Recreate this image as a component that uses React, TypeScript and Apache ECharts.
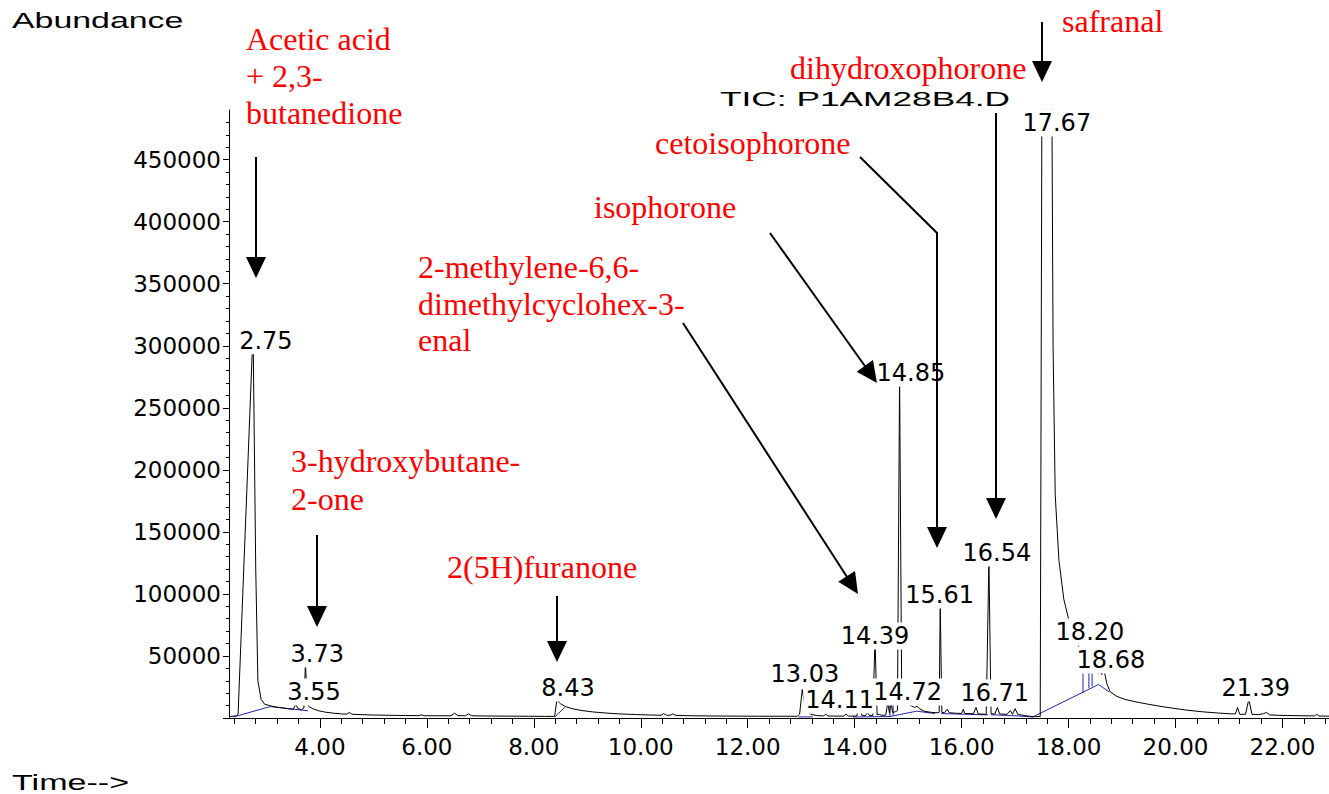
import React, { useEffect, useRef } from "react";
import * as echarts from "echarts";

// Total ion chromatogram trace: [retention time (min), abundance]
const trace: [number, number][] = [
  [2.31, 1200], [2.38, 1500], [2.44, 1800], [2.47, 3000], [2.75, 312000], [2.8, 120000],
  [2.84, 30000], [2.9, 15000], [2.97, 11000], [3.05, 10200], [3.09, 9600], [3.2, 8700],
  [3.32, 8000], [3.44, 7200], [3.5, 7000], [3.55, 11000], [3.59, 7400], [3.66, 6800],
  [3.7, 8000], [3.73, 45000], [3.76, 12000], [3.8, 9000], [3.88, 7200], [3.98, 5800],
  [4.1, 4700], [4.25, 3900], [4.4, 3300], [4.5, 3100], [4.55, 4500], [4.6, 3000],
  [4.8, 2700], [5.0, 2400], [5.3, 2200], [5.6, 2000], [5.85, 1900], [5.9, 2600],
  [5.95, 1800], [6.2, 1800], [6.45, 1800], [6.52, 3900], [6.58, 1900], [6.72, 1800],
  [6.78, 3300], [6.84, 1800], [7.1, 1600], [7.5, 1500], [7.9, 1400], [8.2, 1300],
  [8.39, 1300], [8.43, 14500], [8.5, 11500], [8.6, 9000], [8.75, 7200], [8.9, 6000],
  [9.1, 4900], [9.35, 4000], [9.6, 3300], [9.9, 2800], [10.2, 2400], [10.38, 2200],
  [10.43, 3600], [10.48, 2200], [10.55, 2200], [10.6, 3300], [10.66, 2000], [11.0, 1800],
  [11.4, 1600], [11.8, 1500], [12.2, 1400], [12.6, 1400], [12.93, 1400], [12.97, 3000],
  [13.02, 23000], [13.06, 12000], [13.1, 6000], [13.18, 3000], [13.3, 1900], [13.42, 1700],
  [13.46, 3100], [13.5, 1600], [13.8, 1500], [13.84, 3200], [13.88, 1500], [14.04, 1600],
  [14.09, 12500], [14.13, 2200], [14.2, 1700], [14.24, 4500], [14.28, 1800], [14.34, 2000],
  [14.38, 64000], [14.42, 2500], [14.46, 3000], [14.5, 2200], [14.58, 2300], [14.62, 12500],
  [14.65, 4000], [14.68, 12500], [14.71, 4500], [14.76, 5000], [14.8, 6000], [14.84, 275000],
  [14.88, 15000], [14.93, 13500], [14.98, 12000], [15.05, 10000], [15.12, 8500], [15.17, 9500],
  [15.21, 7500], [15.3, 5500], [15.42, 4600], [15.54, 4200], [15.58, 4500], [15.6, 93000],
  [15.63, 4500], [15.68, 4300], [15.73, 7000], [15.77, 4200], [15.9, 3800], [16.0, 3700],
  [16.03, 7000], [16.06, 3600], [16.22, 3400], [16.27, 8500], [16.31, 3300], [16.46, 3000],
  [16.51, 127000], [16.55, 3500], [16.62, 3200], [16.67, 8500], [16.71, 3200], [16.85, 3000],
  [16.91, 6000], [16.95, 3000], [17.0, 7500], [17.05, 3000], [17.2, 1800], [17.35, 1000],
  [17.47, 1200], [17.5, 480000], [17.6, 540000], [17.69, 480000], [17.71, 300000], [17.75, 180000],
  [17.82, 127000], [17.91, 96000], [18.06, 69000], [18.2, 57000], [18.35, 47000], [18.48, 41000],
  [18.55, 36000], [18.58, 40000], [18.62, 35000], [18.66, 39000], [18.72, 27000], [18.78, 21000],
  [18.9, 17500], [19.05, 15000], [19.28, 12800], [19.5, 11000], [19.75, 9200], [19.95, 7900],
  [20.2, 6400], [20.5, 5000], [20.8, 4000], [21.05, 3300], [21.12, 3300], [21.16, 8500],
  [21.2, 3000], [21.31, 3000], [21.37, 15000], [21.43, 3000], [21.55, 2700], [21.65, 3500],
  [21.7, 4500], [21.76, 2500], [21.9, 2200], [22.1, 2000], [22.4, 1800], [22.6, 1700],
  [22.64, 3000], [22.68, 1600], [22.87, 1500],
];

// Integration baselines (blue)
const baselineSegments: [number, number][][] = [
  [[2.38, 800], [3.07, 9200], [3.78, 5800]],
  [[8.39, 800], [8.58, 8600]],
  [[12.95, 900], [13.22, 900]],
  [[13.97, 800], [14.66, 1200], [15.16, 5500], [15.5, 3600]],
  [[15.62, 3600], [16.5, 2500]],
  [[16.55, 2600], [17.0, 1800], [17.33, 800]],
  [[17.33, 800], [18.56, 27000], [18.76, 21000]],
  [[14.66, 12500], [14.66, 1200]],
  [[14.72, 12000], [14.72, 2000]],
  [[18.27, 45000], [18.27, 20000]],
  [[18.38, 45000], [18.38, 24000]],
  [[18.44, 45000], [18.44, 25500]],
];

// Retention-time labels: text and anchor [time, abundance]
const peakLabelNames = ["2.75", "3.73", "3.55", "8.43", "13.03", "14.11", "14.72", "14.39", "14.85", "15.61", "16.54", "16.71", "17.67", "18.20", "18.68", "21.39"];
const peakLabelAnchors: [number, number][] = [
  [2.99, 304000], [3.95, 51600], [3.89, 21000], [8.64, 24200], [13.07, 35500], [13.72, 14500],
  [14.99, 21000], [14.38, 66100], [15.05, 278000], [15.59, 99100], [16.66, 133000], [16.62, 20150],
  [17.78, 479600], [18.4, 69300], [18.79, 46800], [21.5, 24200],
];

const xLabelValues = [4, 6, 8, 10, 12, 14, 16, 18, 20, 22];
const yLabelValues = [50000, 100000, 150000, 200000, 250000, 300000, 350000, 400000, 450000];

const X_MIN = 2.3;
const X_MAX = 22.87;
const Y_MAX = 490000;

const xMinorTicks: number[] = [];
for (let k = 0; k <= 51; k++) xMinorTicks.push(Math.round(24 + 4 * k) / 10);
const yMajorTicks = [0, ...yLabelValues];
const yMinorTicks: number[] = [];
for (let k = 1; k <= 48; k++) yMinorTicks.push(k * 10000);

// Annotation layout (pixels)
const redTexts: { text: string; x: number; y: number }[] = [
  { text: "Acetic acid", x: 246, y: 39 },
  { text: "+ 2,3-", x: 246, y: 76 },
  { text: "butanedione", x: 246, y: 113 },
  { text: "3-hydroxybutane-", x: 291, y: 461 },
  { text: "2-one", x: 291, y: 499 },
  { text: "2(5H)furanone", x: 447, y: 567 },
  { text: "2-methylene-6,6-", x: 418, y: 267 },
  { text: "dimethylcyclohex-3-", x: 418, y: 304 },
  { text: "enal", x: 418, y: 340 },
  { text: "isophorone", x: 594, y: 207 },
  { text: "cetoisophorone", x: 655, y: 143 },
  { text: "dihydroxophorone", x: 790, y: 68 },
  { text: "safranal", x: 1062, y: 21 },
];

const arrows: number[][][] = [
  [[256, 157], [256, 278]],
  [[317, 535], [317, 627]],
  [[557, 596], [557, 662]],
  [[683, 323], [858, 594]],
  [[770, 233], [877, 383]],
  [[860, 157], [937, 233], [937, 548]],
  [[996, 113], [996, 519]],
  [[1042, 22], [1042, 82]],
];

function arrowElements(pts: number[][]) {
  const head = 21;
  const width = 20;
  const n = pts.length;
  const [x1, y1] = pts[n - 2];
  const [x2, y2] = pts[n - 1];
  const dx = x2 - x1;
  const dy = y2 - y1;
  const L = Math.hypot(dx, dy);
  const ux = dx / L;
  const uy = dy / L;
  const bx = x2 - ux * head;
  const by = y2 - uy * head;
  const px = -uy;
  const py = ux;
  return [
    {
      type: "polyline",
      z: 20,
      shape: { points: [...pts.slice(0, n - 1), [bx + ux * 2, by + uy * 2]] },
      style: { stroke: "#000", lineWidth: 2, fill: null },
      silent: true,
    },
    {
      type: "polygon",
      z: 20,
      shape: {
        points: [
          [x2, y2],
          [bx + (px * width) / 2, by + (py * width) / 2],
          [bx - (px * width) / 2, by - (py * width) / 2],
        ],
      },
      style: { fill: "#000" },
      silent: true,
    },
  ];
}

export default function App() {
  const ref = useRef<HTMLDivElement>(null);
  useEffect(() => {
    if (!ref.current) return;
    const chart = echarts.init(ref.current, null, { renderer: "svg" });
    const axisFont = { fontFamily: "DejaVu Sans", fontSize: 23, color: "#000" };

    const graphic: any[] = [];
    redTexts.forEach((t) => {
      graphic.push({
        type: "text",
        x: t.x,
        y: t.y,
        z: 20,
        silent: true,
        style: {
          text: t.text,
          fill: "#ff0000",
          font: '32px "Liberation Serif", "Times New Roman", serif',
          textAlign: "left",
          textVerticalAlign: "middle",
        },
      });
    });
    const blackTexts = [
      { text: "Abundance", x: 12, y: 20, size: 22, sx: 1.54 },
      { text: "TIC: P1AM28B4.D", x: 720, y: 99, size: 21, sx: 1.68 },
      { text: "Time-->", x: 12, y: 782, size: 22, sx: 1.55 },
    ];
    blackTexts.forEach((t) => {
      graphic.push({
        type: "text",
        x: t.x,
        y: t.y,
        scaleX: t.sx,
        z: 20,
        silent: true,
        style: {
          text: t.text,
          fill: "#000",
          font: `${t.size}px "Liberation Sans", Arial, sans-serif`,
          textAlign: "left",
          textVerticalAlign: "middle",
        },
      });
    });
    arrows.forEach((a) => graphic.push(...arrowElements(a)));

    const series: any[] = baselineSegments.map((seg) => ({
      type: "line",
      data: seg,
      symbol: "none",
      lineStyle: { color: "#2323b0", width: 1 },
      z: 2,
      silent: true,
    }));
    series.push({
      type: "line",
      data: trace,
      symbol: "none",
      showSymbol: false,
      lineStyle: { color: "#000", width: 1 },
      z: 3,
      silent: true,
    });
    series.push({
      type: "scatter",
      data: peakLabelNames.map((name, i) => ({ name, value: peakLabelAnchors[i] })),
      symbolSize: 1,
      itemStyle: { color: "rgba(0,0,0,0)" },
      z: 10,
      silent: true,
      clip: false,
      label: {
        show: true,
        position: "inside",
        formatter: "{b}",
        color: "#000",
        opacity: 1,
        textBorderWidth: 0,
        fontFamily: "DejaVu Sans",
        fontSize: 24,
        backgroundColor: "#fff",
        padding: [2, 2, 1, 2],
      },
    });

    chart.setOption({
      animation: false,
      backgroundColor: "#fff",
      grid: { left: 229, right: 0, top: 110, bottom: 76 },
      xAxis: [
        {
          type: "value",
          min: X_MIN,
          max: X_MAX,
          position: "bottom",
          axisLine: { show: true, onZero: false, lineStyle: { color: "#000", width: 1 } },
          axisTick: { show: true, customValues: xLabelValues, length: 10, lineStyle: { color: "#000" } },
          axisLabel: {
            ...axisFont,
            customValues: xLabelValues,
            margin: 17,
            formatter: (v: number) => v.toFixed(2),
          },
          splitLine: { show: false },
        },
        {
          type: "value",
          min: X_MIN,
          max: X_MAX,
          position: "bottom",
          axisLine: { show: false, onZero: false },
          axisTick: { show: true, customValues: xMinorTicks, length: 6, lineStyle: { color: "#000" } },
          axisLabel: { show: false },
          splitLine: { show: false },
        },
      ],
      yAxis: [
        {
          type: "value",
          min: 0,
          max: Y_MAX,
          position: "left",
          axisLine: { show: true, onZero: false, lineStyle: { color: "#000", width: 1 } },
          axisTick: { show: true, customValues: yMajorTicks, length: 6, lineStyle: { color: "#000" } },
          axisLabel: {
            ...axisFont,
            customValues: yLabelValues,
            margin: 8,
            formatter: (v: number) => String(v),
          },
          splitLine: { show: false },
        },
        {
          type: "value",
          min: 0,
          max: Y_MAX,
          position: "left",
          axisLine: { show: false, onZero: false },
          axisTick: { show: true, customValues: yMinorTicks, length: 3, lineStyle: { color: "#000" } },
          axisLabel: { show: false },
          splitLine: { show: false },
        },
      ],
      series,
      graphic,
    });
    return () => chart.dispose();
  }, []);
  return (
    <div
      ref={ref}
      style={{ position: "fixed", left: 0, top: 0, width: 1329, height: 794, background: "#fff" }}
    />
  );
}
